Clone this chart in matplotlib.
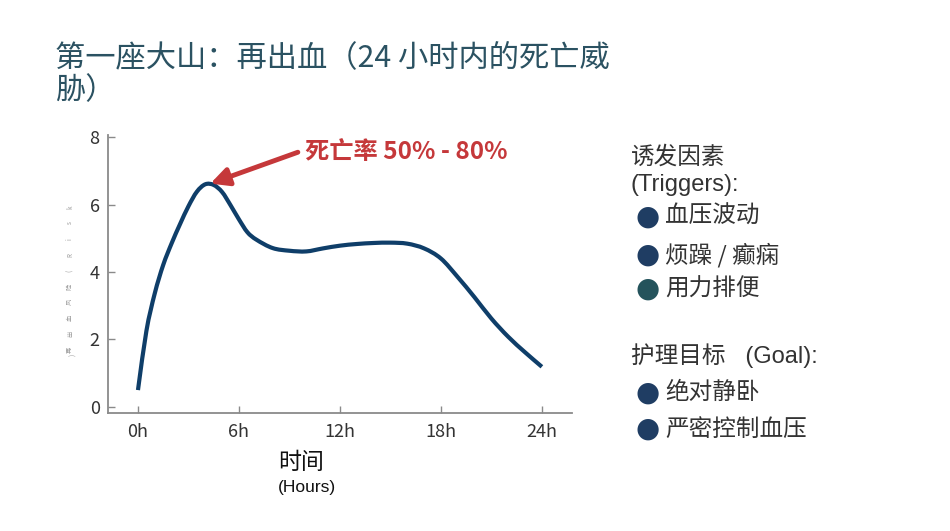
import matplotlib
matplotlib.use("Agg")
import matplotlib.pyplot as plt
from matplotlib.path import Path
from matplotlib.patches import PathPatch

plt.rcParams['font.family'] = ['Noto Sans CJK SC', 'DejaVu Sans']

# Data
hours = [0, 0.5, 1, 1.5, 2, 2.5, 3, 3.5, 4, 4.5, 5, 5.5, 6, 6.5, 7, 8, 9, 10, 11, 12,
         13, 14, 15, 16, 17, 18, 19, 20, 21, 22, 23, 24]
risk = [0.5, 2.25, 3.37, 4.21, 4.85, 5.42, 5.95, 6.38, 6.60, 6.58, 6.37, 5.98, 5.56, 5.18,
        4.97, 4.71, 4.63, 4.61, 4.70, 4.78, 4.83, 4.86, 4.87, 4.84, 4.70, 4.40, 3.85, 3.25,
        2.62, 2.08, 1.62, 1.19]
xticks = [0, 6, 12, 18, 24]
xticklabels = ['0h', '6h', '12h', '18h', '24h']
yticks = [0, 2, 4, 6, 8]

title = '第一座大山：再出血（24 小时内的死亡威\n胁）'
annot_text = '死亡率 50% - 80%'
peak = (4.3, 6.62)
ylabel_chars = list('再出血风险(Risk')
trigger_head = ['诱发因素', '(Triggers):']
triggers = ['血压波动', '烦躁 / 癫痫', '用力排便']
trigger_colors = ['#1f3d63', '#1f3d63', '#24535c']
goal_head = '护理目标   (Goal):'
goals = ['绝对静卧', '严密控制血压']
goal_colors = ['#1f3d63', '#1f3d63']

LAT = ['Liberation Sans', 'Noto Sans CJK SC', 'DejaVu Sans']

fig = plt.figure(figsize=(9.5, 5.31), dpi=100)
fig.patch.set_facecolor('white')

ax = fig.add_axes([0.1137, 0.2222, 0.4884, 0.5235])

# Smooth curve through the read points (cubic Hermite rendered as Bezier path)
n = len(hours)
tang = []
for i in range(n):
    a = max(i - 1, 0)
    b = min(i + 1, n - 1)
    tang.append((risk[b] - risk[a]) / (hours[b] - hours[a]))
verts = [(hours[0], risk[0])]
codes = [Path.MOVETO]
for i in range(n - 1):
    h = hours[i + 1] - hours[i]
    verts += [(hours[i] + h / 3, risk[i] + tang[i] * h / 3),
              (hours[i + 1] - h / 3, risk[i + 1] - tang[i + 1] * h / 3),
              (hours[i + 1], risk[i + 1])]
    codes += [Path.CURVE4] * 3
ax.add_patch(PathPatch(Path(verts, codes), fill=False, edgecolor='#0f3e69', lw=3.0,
                       capstyle='butt', joinstyle='round', transform=ax.transData))

ax.set_xlim(-1.78, 25.79)
ax.set_ylim(-0.18, 8.06)
ax.set_xticks(xticks)
ax.set_xticklabels(xticklabels)
ax.set_yticks(yticks)
for s in ['top', 'right']:
    ax.spines[s].set_visible(False)
for s in ['left', 'bottom']:
    ax.spines[s].set_color('#8a8a8a')
    ax.spines[s].set_linewidth(1.3)
ax.tick_params(axis='both', direction='in', length=5, width=1, color='#8a8a8a',
               labelsize=13, labelcolor='#333333')
ax.tick_params(axis='x', pad=7)
ax.tick_params(axis='y', pad=6)

ax.annotate('', xy=peak, xytext=(9.5, 7.55),
            arrowprops=dict(arrowstyle='-|>', lw=3.5, color='#c5383a',
                            mutation_scale=27, shrinkA=0, shrinkB=0))
ax.text(9.9, 7.55, annot_text, color='#c5383a', fontsize=17.5, fontweight='bold',
        va='center', ha='left')

# tiny, widely spaced vertical y-axis label
ny = len(ylabel_chars)
for k, ch in enumerate(ylabel_chars):
    ypix = 350 - k * (350 - 207) / (ny - 1)
    fig.text(70 / 950, 1 - ypix / 531, ch, rotation=90, fontsize=4.5, color='#9a9a9a',
             ha='center', va='center')
fig.text(73 / 950, 1 - 355 / 531, ')', rotation=90, fontsize=4.5, color='#9a9a9a',
         ha='center', va='center')

fig.text(0.058, 0.92, title, fontsize=21.8, color='#2b5262', ha='left', va='top',
         linespacing=1.08)

fig.text(0.293, 0.129, '时间', fontsize=16.5, color='#111111', ha='left', va='center')
fig.text(0.292, 0.081, '(Hours)', fontsize=12.5, color='#111111', ha='left', va='center',
         family=LAT)

# Right panel
FS = 17
fig.text(0.664, 0.704, trigger_head[0], fontsize=FS, color='#333333', ha='left', va='center')
fig.text(0.664, 0.652, trigger_head[1], fontsize=FS, color='#333333', ha='left', va='center',
         family=LAT)
ty = [0.593, 0.520, 0.456]
for y, t, c in zip(ty, triggers, trigger_colors):
    fig.text(0.669, y, '●', fontsize=20, color=c, ha='left', va='center', family=['DejaVu Sans'])
    fig.text(0.700, y, t, fontsize=FS, color='#333333', ha='left', va='center')

fig.text(0.664, 0.331, goal_head, fontsize=FS, color='#333333', ha='left', va='center',
         family=LAT)
gy = [0.260, 0.192]
for y, t, c in zip(gy, goals, goal_colors):
    fig.text(0.669, y, '●', fontsize=20, color=c, ha='left', va='center', family=['DejaVu Sans'])
    fig.text(0.700, y, t, fontsize=FS, color='#333333', ha='left', va='center')

fig.savefig('out.png', dpi=100, facecolor='white')
